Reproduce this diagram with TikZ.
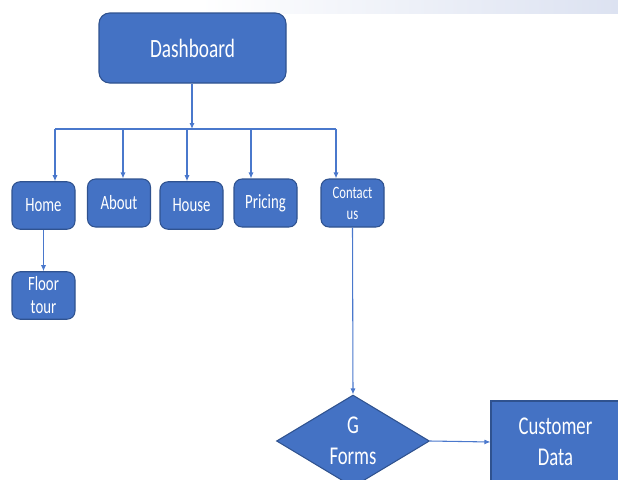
\documentclass[tikz,border=0pt]{standalone}
\usepackage{fontspec}
\usetikzlibrary{arrows.meta,shapes.geometric}
\newfontfamily\boxfont[FakeStretch=0.73]{Carlito}
\definecolor{boxfill}{HTML}{4472C4}
\definecolor{boxedge}{HTML}{2F528F}
\definecolor{wire}{HTML}{4A78CC}
\definecolor{haze}{HTML}{DCE2F1}
\tikzset{
  pagebox/.style={draw=boxedge, line width=0.8pt, fill=boxfill, rounded corners=6pt,
    text=white, align=center, inner sep=0pt, font=\boxfont\fontsize{15.2}{17.3}\selectfont,
    minimum width=47.25pt, minimum height=35.6pt},
  link/.style={draw=wire, line width=0.8pt, -{Latex[length=4.5pt,width=3.8pt]}},
  bus/.style={draw=wire, line width=0.8pt}
}
\begin{document}
\begin{tikzpicture}[x=0.75pt, y=-0.75pt]
\useasboundingbox (0,0) rectangle (618,479);
\clip (0,0) rectangle (618,479);
% faint band along the top edge
\shade[left color=white, right color=haze] (200,0) rectangle (618,13);

% top-level page
\node[pagebox, rounded corners=8pt, minimum width=140.25pt, minimum height=52.5pt,
      font=\boxfont\fontsize{19.8}{22}\selectfont] (dash) at (192.5,48) {Dashboard};

% menu pages
\node[pagebox] (home)    at (43.5,205.5) {Home};
\node[pagebox, minimum height=36pt] (about)   at (119,203)    {About};
\node[pagebox] (house)   at (191.5,205.5) {House};
\node[pagebox, minimum height=36pt] (pricing) at (265.5,203)  {Pricing};
\node[pagebox, minimum height=36pt, font=\boxfont\fontsize{13}{15.8}\selectfont]
      (contact) at (352.5,203) {Contact\\us};
\node[pagebox, font=\boxfont\fontsize{15.2}{17.3}\selectfont] (floor) at (43.5,295.5) {Floor\\tour};

% form and data store
\node[diamond, draw=boxedge, line width=0.8pt, fill=boxfill, inner sep=0pt,
      minimum width=114.75pt, minimum height=69pt] (gforms) at (353,441) {};
\node[text=white, align=center, inner sep=0pt, font=\boxfont\fontsize{19.2}{23.2}\selectfont]
      (gtext) at (gforms.center) {G\\Forms};
\node[draw=boxedge, line width=0.8pt, fill=boxfill, text=white, align=center, inner sep=0pt,
      minimum width=96.75pt, minimum height=61.5pt, font=\boxfont\fontsize{19.2}{23.2}\selectfont]
      (cust) at (555.5,442) {Customer\\Data};

% distribution bus below the dashboard
\coordinate (bhome)    at (55,129);
\coordinate (babout)   at (123,129);
\coordinate (bhouse)   at (187,129);
\coordinate (bpricing) at (251,129);
\coordinate (bcontact) at (336,129);
\coordinate (bmid)     at (192,129);

\draw[link] (dash.south -| bmid) -- (bmid);
\draw[bus] (bhome) -- (bcontact);
\draw[link] (bhome) -- (bhome |- home.north);
\draw[link] (babout) -- (babout |- about.north);
\draw[link] (bhouse) -- (bhouse |- house.north);
\draw[link] (bpricing) -- (bpricing |- pricing.north);
\draw[link] (bcontact) -- (bcontact |- contact.north);

\draw[link] (home.south) -- (floor.north);
\draw[link] (contact.south) -- (gforms.north);
\draw[link] (gforms.east) -- (cust.west);
\end{tikzpicture}
\end{document}
